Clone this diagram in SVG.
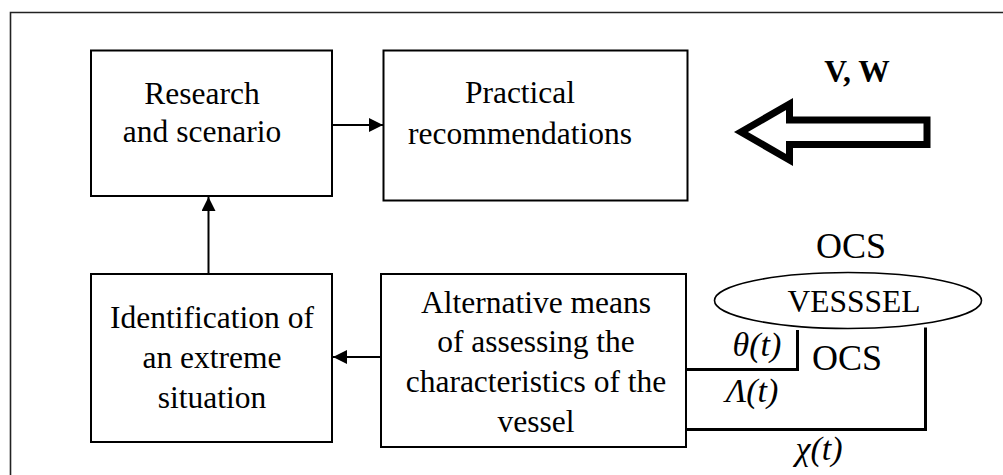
<svg xmlns="http://www.w3.org/2000/svg" width="1003" height="475" viewBox="0 0 1003 475">
<defs>
<style>
.box{fill:#fff;stroke:#000;stroke-width:2}
.t{font-family:Liberation Serif, Times New Roman, serif;font-size:31.5px;fill:#000;text-anchor:middle}
.big{font-size:36px}
.it{font-family:Liberation Serif, Times New Roman, serif;font-style:italic;font-size:34px;fill:#000;text-anchor:middle}
.ln{fill:none;stroke:#000;stroke-width:2}
.sig{fill:none;stroke:#000;stroke-width:3}
</style>
<marker id="ah" viewBox="0 0 14 14" refX="14" refY="7" markerWidth="14" markerHeight="14" markerUnits="userSpaceOnUse" orient="auto">
<path d="M0,0 L14,7 L0,14 Z" fill="#000"/>
</marker>
</defs>
<rect width="1003" height="475" fill="#fff"/>
<path d="M10.5,475 V12.5 H1003" fill="none" stroke="#222" stroke-width="1.6"/>

<g id="research">
<rect class="box" x="91" y="50.5" width="241" height="145.5"/>
<text class="t" x="202" y="104">Research</text>
<text class="t" x="202" y="142">and scenario</text>
</g>

<g id="practical">
<rect class="box" x="383.5" y="50.5" width="304" height="150"/>
<text class="t" x="520" y="103">Practical</text>
<text class="t" x="520" y="144">recommendations</text>
</g>

<g id="identification">
<rect class="box" x="91" y="274" width="241" height="168"/>
<text class="t" x="212" y="328">Identification of</text>
<text class="t" x="212" y="368">an extreme</text>
<text class="t" x="212" y="408">situation</text>
</g>

<g id="alternative">
<rect class="box" x="381" y="274" width="305" height="173"/>
<text class="t" x="536" y="313">Alternative means</text>
<text class="t" x="536" y="352">of assessing the</text>
<text class="t" x="536" y="392">characteristics of the</text>
<text class="t" x="536" y="432">vessel</text>
</g>

<g id="vessel">
<ellipse cx="848" cy="300.5" rx="133.5" ry="28" fill="#fff" stroke="#000" stroke-width="1.6"/>
<text class="t" x="854" y="312">VESSSEL</text>
<text class="t big" x="851" y="258">OCS</text>
</g>

<g id="flow">
<polygon points="741,132 789.5,104 789.5,120 927,120 927,144.5 789.5,144.5 789.5,160" fill="#fff" stroke="#000" stroke-width="7" stroke-miterlimit="10"/>
<text x="857" y="82" font-family="Liberation Serif, Times New Roman, serif" font-weight="bold" font-size="31.5" text-anchor="middle">V, W</text>
</g>

<g id="connectors">
<line class="ln" x1="333" y1="125" x2="383" y2="125" marker-end="url(#ah)"/>
<line class="ln" x1="208.5" y1="274" x2="208.5" y2="197" marker-end="url(#ah)"/>
<line class="ln" x1="381" y1="357" x2="333" y2="357" marker-end="url(#ah)"/>
<path class="sig" d="M687,369.5 H797.5 V330"/>
<path class="sig" d="M687,429.5 H925.5 V327.5"/>
<text class="it" x="757" y="356">θ(t)</text>
<text class="t big" x="847" y="370">OCS</text>
<text class="it" x="752" y="402">Λ(t)</text>
<text class="it" x="819" y="460">χ(t)</text>
</g>
</svg>
